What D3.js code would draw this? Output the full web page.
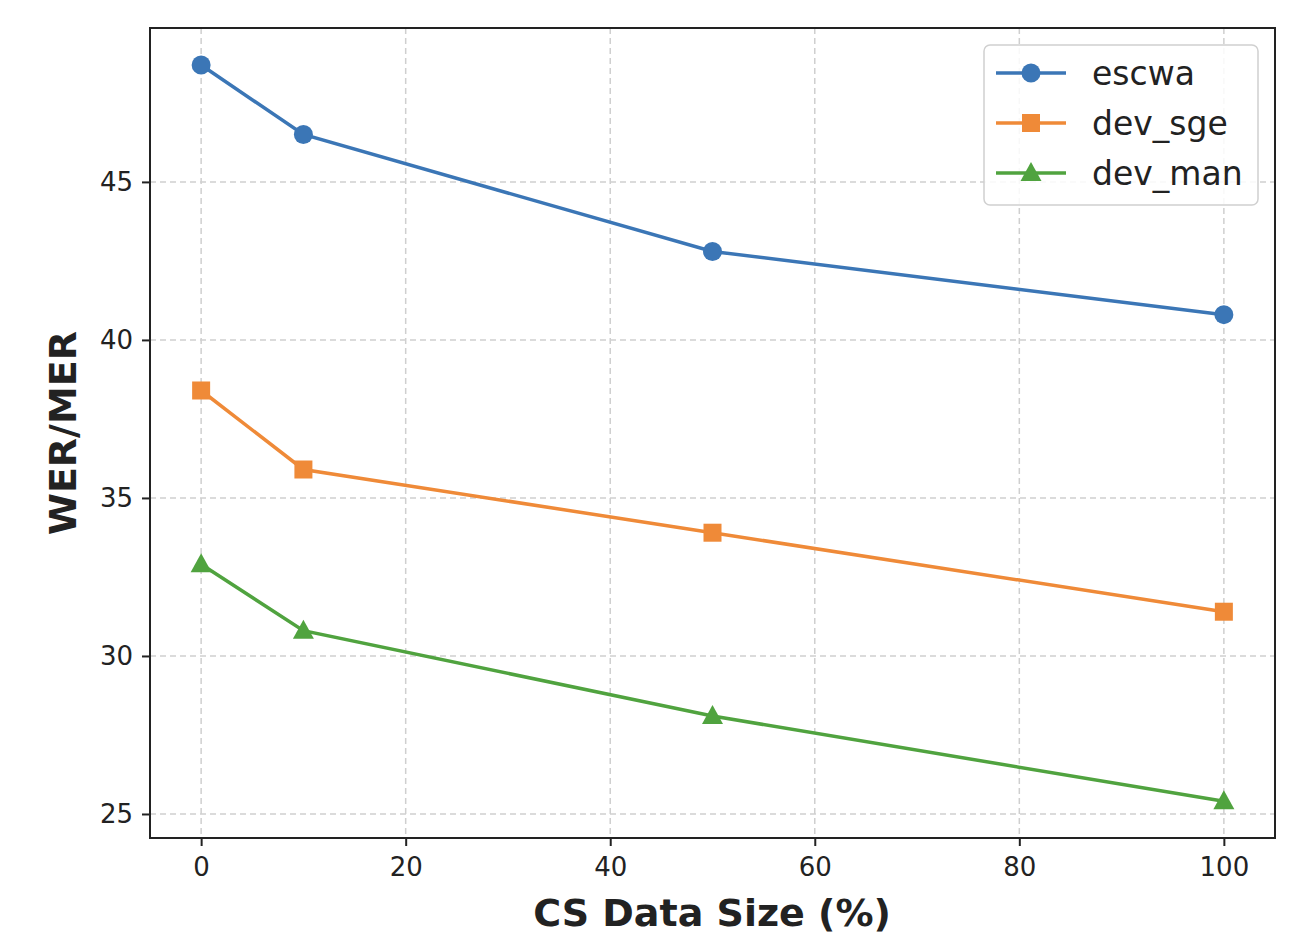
<!DOCTYPE html>
<html lang="en">
<head>
<meta charset="UTF-8">
<title>WER/MER vs CS Data Size</title>
<script src="https://d3js.org/d3.v7.min.js"></script>
<style>
    body { margin: 0; background: #fff; }
    text { font-family: "DejaVu Sans", sans-serif; fill: #222; }
</style>
</head>
<body>
<svg width="1300" height="934"></svg>
<script>
    const sizes = [0, 10, 50, 100];
    const escwa = [48.7, 46.5, 42.8, 40.8];
    const devSge = [38.4, 35.9, 33.9, 31.4];
    const devMan = [32.9, 30.8, 28.1, 25.4];
    const xTicks = [0, 20, 40, 60, 80, 100];
    const yTicks = [25, 30, 35, 40, 45];

    const series = [
        {name: "escwa", values: escwa, color: "#3b76b6", shape: "circle"},
        {name: "dev_sge", values: devSge, color: "#ef8a38", shape: "square"},
        {name: "dev_man", values: devMan, color: "#50a33f", shape: "triangle"}
    ];

    const plotL = 150, plotR = 1275, plotT = 28, plotB = 838;

    const svg = d3.select("svg");

    const x = d3.scaleLinear().domain([-5, 105]).range([plotL, plotR]);
    const y = d3.scaleLinear().domain([24.24, 49.87]).range([plotB, plotT]);

    // grid
    const grid = svg.append("g");
    grid.selectAll(".gx").data(xTicks).enter().append("line")
        .attr("x1", d => x(d)).attr("x2", d => x(d))
        .attr("y1", plotT).attr("y2", plotB)
        .attr("stroke", "#cfcfcf").attr("stroke-width", 1.5)
        .attr("stroke-dasharray", "6,4");
    grid.selectAll(".gy").data(yTicks).enter().append("line")
        .attr("x1", plotL).attr("x2", plotR)
        .attr("y1", d => y(d)).attr("y2", d => y(d))
        .attr("stroke", "#cfcfcf").attr("stroke-width", 1.5)
        .attr("stroke-dasharray", "6,4");

    // axes
    const xAxis = svg.append("g")
        .attr("transform", `translate(0,${plotB})`)
        .call(d3.axisBottom(x).tickValues(xTicks).tickSize(8).tickPadding(12));
    const yAxis = svg.append("g")
        .attr("transform", `translate(${plotL},0)`)
        .call(d3.axisLeft(y).tickValues(yTicks).tickSize(8).tickPadding(9));
    [xAxis, yAxis].forEach(g => {
        g.select(".domain").remove();
        g.selectAll(".tick line").attr("stroke", "#222").attr("stroke-width", 2);
        g.selectAll(".tick text").attr("font-size", 26).attr("fill", "#222")
            .style("font-family", "'DejaVu Sans', sans-serif");
    });

    // frame
    svg.append("rect")
        .attr("x", plotL).attr("y", plotT)
        .attr("width", plotR - plotL).attr("height", plotB - plotT)
        .attr("fill", "none").attr("stroke", "#222").attr("stroke-width", 2);

    // lines and markers
    const line = d3.line().x((d, i) => x(sizes[i])).y(d => y(d));

    function marker(g, shape, color, cx, cy) {
        if (shape === "circle") {
            g.append("circle").attr("cx", cx).attr("cy", cy).attr("r", 9.5).attr("fill", color);
        } else if (shape === "square") {
            g.append("rect").attr("x", cx - 9).attr("y", cy - 9)
                .attr("width", 18).attr("height", 18).attr("fill", color);
        } else {
            g.append("path")
                .attr("d", `M${cx},${cy - 11}L${cx + 10.5},${cy + 8}L${cx - 10.5},${cy + 8}Z`)
                .attr("fill", color);
        }
    }

    series.forEach(s => {
        svg.append("path").datum(s.values)
            .attr("d", line).attr("fill", "none")
            .attr("stroke", s.color).attr("stroke-width", 3.5);
        const g = svg.append("g");
        s.values.forEach((v, i) => marker(g, s.shape, s.color, x(sizes[i]), y(v)));
    });

    // legend
    const lg = svg.append("g");
    lg.append("rect")
        .attr("x", 984).attr("y", 45).attr("width", 274).attr("height", 160)
        .attr("rx", 6).attr("fill", "#fff").attr("fill-opacity", 0.85)
        .attr("stroke", "#d0d0d0").attr("stroke-width", 1.5);
    series.forEach((s, i) => {
        const ly = 73 + i * 50;
        lg.append("line").attr("x1", 996).attr("x2", 1066)
            .attr("y1", ly).attr("y2", ly)
            .attr("stroke", s.color).attr("stroke-width", 3.5);
        marker(lg, s.shape, s.color, 1031, ly);
        lg.append("text").attr("x", 1092).attr("y", ly).attr("dy", "0.35em")
            .attr("font-size", 33).text(s.name);
    });

    // axis titles
    svg.append("text")
        .attr("x", 712).attr("y", 926)
        .attr("text-anchor", "middle").attr("font-size", 38).attr("font-weight", "bold")
        .text("CS Data Size (%)");
    svg.append("text")
        .attr("transform", `translate(76,${433}) rotate(-90)`)
        .attr("text-anchor", "middle").attr("font-size", 38).attr("font-weight", "bold")
        .text("WER/MER");
</script>
</body>
</html>
